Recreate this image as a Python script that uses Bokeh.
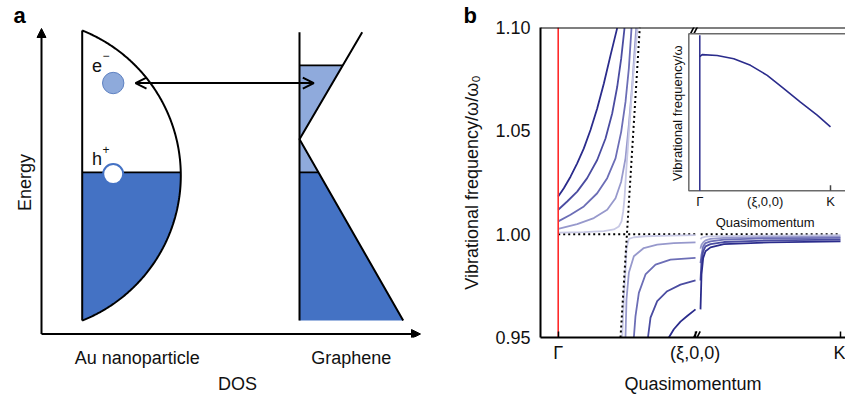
import numpy as np
from bokeh.plotting import figure
from bokeh.models import Range1d, FixedTicker, Arrow, NormalHead, OpenHead, Span, Title
from bokeh.layouts import row
from bokeh.core.properties import value
from bokeh.embed import file_html
from bokeh.resources import INLINE

FONT = "Liberation Sans"

# ---------------- Panel b data ----------------
X_TICKS = [0.0, 0.485, 1.0]
X_TICK_LABELS = ["Γ", "(ξ,0,0)", "K"]
Y_TICKS = [0.95, 1.00, 1.05, 1.10]
Y_TICK_LABELS = ["0.95", "1.00", "1.05", "1.10"]

# upper branch (dark -> light)
U1_X = [0.0, 0.0199, 0.0436, 0.0672, 0.0908, 0.1144, 0.1381, 0.1617, 0.1853, 0.2089]
U1_Y = [1.0182, 1.0222, 1.0278, 1.0343, 1.0415, 1.0504, 1.0608, 1.0729, 1.0865, 1.0997]
U2_X = [0.0, 0.0318, 0.0672, 0.1026, 0.1381, 0.1676, 0.1912, 0.2089, 0.2231, 0.2349]
U2_Y = [1.0118, 1.0158, 1.0206, 1.0271, 1.0359, 1.0463, 1.0584, 1.0712, 1.0849, 1.0997]
U3_X = [0.0, 0.0436, 0.0908, 0.1381, 0.1735, 0.2030, 0.2231, 0.2384, 0.2502, 0.2597]
U3_Y = [1.0062, 1.0094, 1.0134, 1.0198, 1.0271, 1.0367, 1.0495, 1.0640, 1.0801, 1.0997]
U4_X = [0.0, 0.0672, 0.1262, 0.1735, 0.2030, 0.2231, 0.2384, 0.2502, 0.2621, 0.2703, 0.2763]
U4_Y = [1.0026, 1.0049, 1.0078, 1.0118, 1.0174, 1.0254, 1.0367, 1.0528, 1.0720, 1.0881, 1.0997]
U5_X = [0.0, 0.0908, 0.1617, 0.1971, 0.2148, 0.2243, 0.2302, 0.2349, 0.2408, 0.2491, 0.2585, 0.2680, 0.2774, 0.2810]
U5_Y = [1.0007, 1.0010, 1.0015, 1.0023, 1.0037, 1.0062, 1.0110, 1.0174, 1.0303, 1.0463, 1.0640, 1.0801, 1.0945, 1.0997]

# lower branch, left of the axis break (dark -> light)
L1_X = [0.3919, 0.4096, 0.4332, 0.4569, 0.4864]
L1_Y = [0.9500, 0.9540, 0.9577, 0.9604, 0.9636]
L2_X = [0.3180, 0.3270, 0.3507, 0.3861, 0.4332, 0.4864]
L2_Y = [0.9500, 0.9596, 0.9676, 0.9724, 0.9756, 0.9776]
L3_X = [0.2680, 0.2738, 0.2857, 0.3092, 0.3447, 0.3978, 0.4864]
L3_Y = [0.9500, 0.9604, 0.9716, 0.9805, 0.9853, 0.9877, 0.9885]
L4_X = [0.2384, 0.2419, 0.2502, 0.2680, 0.3032, 0.3507, 0.4096, 0.4864]
L4_Y = [0.9500, 0.9684, 0.9813, 0.9893, 0.9933, 0.9949, 0.9957, 0.9960]
L5_X = [0.2267, 0.2330, 0.2396, 0.2420, 0.2502, 0.2680, 0.3092, 0.3978, 0.4864]
L5_Y = [0.9500, 0.9700, 0.9850, 0.9930, 0.9977, 0.9985, 0.9990, 0.9993, 0.9995]

# lower branch, right of the axis break (dark -> light)
R_X = [0.5041, 0.5076, 0.5136, 0.5218, 0.5395, 0.5867, 0.7500, 1.0000]
R1_Y = [0.9636, 0.9805, 0.9885, 0.9917, 0.9936, 0.9952, 0.9960, 0.9965]
R2_Y = [0.9776, 0.9869, 0.9917, 0.9941, 0.9952, 0.9962, 0.9970, 0.9974]
R3_Y = [0.9860, 0.9900, 0.9941, 0.9957, 0.9965, 0.9974, 0.9980, 0.9982]
R4_Y = [0.9930, 0.9949, 0.9960, 0.9970, 0.9977, 0.9982, 0.9986, 0.9988]
R5_Y = [0.9975, 0.9982, 0.9985, 0.9988, 0.9989, 0.9991, 0.9993, 0.9995]

# uncoupled modes (dotted)
LIGHT_X = [0.2207, 0.2890]
LIGHT_Y = [0.95, 1.10]
FLAT_LEFT_X = [0.0, 0.492]
FLAT_RIGHT_X = [0.5046, 1.0]
FLAT_Y = 1.00
BREAK_X = [0.480, 0.492]

# inset: full dispersion (normalised frequency)
INSET_Q = [0.0, 0.018, 0.133, 0.260, 0.388, 0.516, 0.643, 0.770, 0.898, 1.0]
INSET_W = [0.855, 0.867, 0.862, 0.841, 0.799, 0.735, 0.651, 0.565, 0.481, 0.407]
INSET_TICKS = [0.0, 0.5, 1.0]
INSET_TICK_LABELS = ["Γ", "(ξ,0,0)", "K"]

SHADES = ["#2b2c8c", "#4a4ca1", "#6c6eb6", "#9799cc", "#c8c9e5"]

# ---------------- Panel a (schematic) geometry, page pixels ----------------
AX_X, AX_Y, AX_TOP, AX_RIGHT = 41.0, 334.5, 28.0, 420.0
AU_X0, AU_TOP, AU_BOT, AU_XMAX = 81.7, 30.0, 321.0, 180.3
E_F, E_TOP = 172.3, 65.0
GR_X0, GR_TOP, GR_APEX, GR_BOT = 299.0, 31.7, 139.0, 321.0
GR_UP_X, GR_LOW_X = 361.7, 402.7
ELEC = (112.7, 82.7, 10.7)
HOLE = (112.7, 174.0, 10.0)
TRANSFER = (135.0, 313.3, 82.7)
A_TICKS = [136.7, 350.8]
A_TICK_LABELS = ["Au nanoparticle", "Graphene"]

W_A, W_B, H = 440, 405, 396
TOP_B, BOT_B = 27, 58          # shared frame borders (rows align frames)
FRAME_TOP, FRAME_BOT = TOP_B, H - BOT_B
A_LEFT = 34
DARK_BLUE, LIGHT_BLUE = "#4472c4", "#8faadc"
TXT = "#111111"

pa = figure(width=W_A, height=H, x_range=Range1d(A_LEFT, W_A), y_range=Range1d(FRAME_BOT, FRAME_TOP),
            output_backend="svg", toolbar_location=None,
            min_border_left=A_LEFT, min_border_right=0, min_border_top=TOP_B, min_border_bottom=BOT_B)
pa.outline_line_color = None
pa.grid.visible = False
for ax in (pa.xaxis, pa.yaxis):
    ax.axis_line_color = None
    ax.major_tick_in = 0
    ax.major_tick_out = 0
    ax.minor_tick_line_color = None
    ax.major_label_text_font = FONT
    ax.major_label_text_font_size = "18px"
    ax.major_label_text_color = TXT
    ax.axis_label_text_font = FONT
    ax.axis_label_text_font_size = "18px"
    ax.axis_label_text_font_style = "normal"
    ax.axis_label_text_color = TXT
pa.xaxis.ticker = FixedTicker(ticks=A_TICKS)
pa.xaxis.major_label_overrides = dict(zip(A_TICKS, A_TICK_LABELS))
pa.xaxis.major_label_standoff = 10
pa.xaxis.axis_label = "DOS"
pa.xaxis.axis_label_standoff = 3
pa.yaxis.ticker = FixedTicker(ticks=[])
pa.yaxis.axis_label = "Energy"
pa.yaxis.axis_label_standoff = 0
pa.title = Title(text="a", align="left", offset=-21, standoff=0, text_font=FONT,
                 text_font_size="22px", text_font_style="bold", text_color="black")

# Au DOS: circular arc
cy = (AU_TOP + AU_BOT) / 2
hh = (AU_BOT - AU_TOP) / 2
cx = (AU_XMAX**2 - AU_X0**2 - hh**2) / (2 * (AU_XMAX - AU_X0))
R = AU_XMAX - cx
th0 = np.arccos((AU_X0 - cx) / R)
th = np.linspace(-th0, th0, 300)
thf = np.linspace(np.arcsin((E_F - cy) / R), th0, 200)
fx = [AU_X0] + list(cx + R * np.cos(thf)) + [AU_X0]
fy = [E_F] + list(cy + R * np.sin(thf)) + [AU_BOT]
pa.patch(fx, fy, fill_color=DARK_BLUE, line_color=None)
pa.line(cx + R * np.cos(th), cy + R * np.sin(th), line_color="black", line_width=2)
pa.line([AU_X0, AU_X0], [AU_TOP, AU_BOT], line_color="black", line_width=2)
xf_au = cx + R * np.cos(thf[0])
pa.line([AU_X0, xf_au], [E_F, E_F], line_color="black", line_width=1.6)

# Graphene DOS: Dirac cone
def up_x(y):
    return GR_X0 + (GR_APEX - y) / (GR_APEX - GR_TOP) * (GR_UP_X - GR_X0)

def low_x(y):
    return GR_X0 + (y - GR_APEX) / (GR_BOT - GR_APEX) * (GR_LOW_X - GR_X0)

pa.patch([GR_X0, up_x(E_TOP), GR_X0, low_x(E_F), GR_X0], [E_TOP, E_TOP, GR_APEX, E_F, E_F],
         fill_color=LIGHT_BLUE, line_color=None)
pa.patch([GR_X0, low_x(E_F), GR_LOW_X, GR_X0], [E_F, E_F, GR_BOT, GR_BOT],
         fill_color=DARK_BLUE, line_color=None)
pa.line([GR_X0, GR_X0], [GR_TOP, GR_BOT], line_color="black", line_width=2)
pa.line([GR_UP_X, GR_X0, GR_LOW_X], [GR_TOP, GR_APEX, GR_BOT], line_color="black", line_width=2)
pa.line([GR_X0, up_x(E_TOP)], [E_TOP, E_TOP], line_color="black", line_width=1.6)
pa.line([GR_X0, low_x(E_F)], [E_F, E_F], line_color="black", line_width=1.6)

# electron and hole
pa.circle(x=[ELEC[0]], y=[ELEC[1]], radius=ELEC[2], fill_color="#8eaadb", line_color="#5f82c2", line_width=1)
pa.circle(x=[HOLE[0]], y=[HOLE[1]], radius=HOLE[2], fill_color="white", line_color=DARK_BLUE, line_width=2)

# arrows
pa.add_layout(Arrow(start=OpenHead(size=11, line_width=2), end=OpenHead(size=11, line_width=2),
                    x_start=TRANSFER[0], x_end=TRANSFER[1], y_start=TRANSFER[2], y_end=TRANSFER[2],
                    line_width=2))
pa.add_layout(Arrow(end=NormalHead(size=9, fill_color="black", line_color="black"),
                    x_start=AX_X, y_start=AX_Y, x_end=AX_X, y_end=AX_TOP, line_width=2))
pa.add_layout(Arrow(end=NormalHead(size=9, fill_color="black", line_color="black"),
                    x_start=AX_X, y_start=AX_Y, x_end=AX_RIGHT, y_end=AX_Y, line_width=2))

pa.text(x=[91.5, 91.5], y=[65.5, 158.5], text=["e", "h"], text_font=value(FONT), text_font_size="18px",
        text_align="left", text_baseline="alphabetic", text_color=TXT)
pa.text(x=[102.0, 102.0], y=[55.0, 149.5], text=["−", "+"], text_font=value(FONT), text_font_size="12px",
        text_align="left", text_baseline="alphabetic", text_color=TXT)

# ---------------- Panel b ----------------
pb = figure(width=W_B, height=H, x_range=Range1d(-0.0627, 1.0177), y_range=Range1d(0.95, 1.10),
            output_backend="svg", toolbar_location=None,
            min_border_left=100, min_border_right=0, min_border_top=TOP_B, min_border_bottom=BOT_B)
pb.outline_line_color = None
pb.grid.visible = False
pb.title = Title(text="b", align="left", offset=-77, standoff=0, text_font=FONT,
                 text_font_size="22px", text_font_style="bold", text_color="black")

for ax in (pb.xaxis, pb.yaxis):
    ax.axis_line_width = 2
    ax.major_label_text_font = FONT
    ax.major_label_text_font_size = "18px"
    ax.major_label_text_color = TXT
    ax.axis_label_text_font = FONT
    ax.axis_label_text_font_size = "18px"
    ax.axis_label_text_font_style = "normal"
    ax.axis_label_text_color = TXT
    ax.minor_tick_line_color = None
    ax.major_tick_out = 0

pb.xaxis.ticker = FixedTicker(ticks=X_TICKS)
pb.xaxis.major_label_overrides = dict(zip(X_TICKS, X_TICK_LABELS))
pb.xaxis.major_tick_in = 6
pb.xaxis.major_tick_line_width = 1.5
pb.xaxis.major_label_standoff = 5
pb.xaxis.axis_label = "Quasimomentum"
pb.xaxis.axis_label_standoff = 8
pb.yaxis.ticker = FixedTicker(ticks=Y_TICKS)
pb.yaxis.major_label_overrides = dict(zip(Y_TICKS, Y_TICK_LABELS))
pb.yaxis.major_tick_in = 0
pb.yaxis.major_label_standoff = 10
pb.yaxis.axis_label = "Vibrational frequency/ω/ω₀"
pb.yaxis.axis_label_standoff = 10

pb.add_layout(Span(location=1.10, dimension="width", line_color="black", line_width=2))

# dotted uncoupled modes
pb.line(FLAT_LEFT_X, [FLAT_Y, FLAT_Y], line_color="black", line_width=2, line_dash="2 3")
pb.line(FLAT_RIGHT_X, [FLAT_Y, FLAT_Y], line_color="black", line_width=2, line_dash="2 3")

for xs, ys, c in zip([U1_X, U2_X, U3_X, U4_X, U5_X], [U1_Y, U2_Y, U3_Y, U4_Y, U5_Y], SHADES):
    pb.line(xs, ys, line_color=c, line_width=1.8)
for xs, ys, c in zip([L1_X, L2_X, L3_X, L4_X, L5_X], [L1_Y, L2_Y, L3_Y, L4_Y, L5_Y], SHADES):
    pb.line(xs, ys, line_color=c, line_width=1.8)
for ys, c in zip([R5_Y, R4_Y, R3_Y, R2_Y, R1_Y], SHADES[::-1]):
    pb.line(R_X, ys, line_color=c, line_width=1.8)

pb.line(LIGHT_X, LIGHT_Y, line_color="black", line_width=2, line_dash="2 3")
pb.line([0, 0], [0.95, 1.10], line_color="#ff2a2a", line_width=1.6)

# axis-break marks (short slashes on the bottom and top axes)
dx, dy = 0.0110, 0.0030
for yb in (0.95, 1.10):
    pb.segment(x0=[b - dx for b in BREAK_X], y0=[yb - dy] * 2, x1=[b + dx for b in BREAK_X],
               y1=[yb + dy] * 2, line_color="black", line_width=1.6)

# inset via extra ranges
pb.extra_x_ranges = {"inset": Range1d(-1.2188, 1.1148)}
pb.extra_y_ranges = {"inset": Range1d(-0.9358, 1.040)}
kw = dict(x_range_name="inset", y_range_name="inset")
pb.quad(left=[-0.084], right=[1.3], bottom=[0.0], top=[1.0], fill_color="white",
        line_color="#6a6a6a", line_width=1.5, **kw)
pb.segment(x0=[1.0], y0=[0.0], x1=[1.0], y1=[0.035], line_color="#444444", line_width=1.5, **kw)
pb.line([0.0, 0.0], [0.0, 0.99], line_color=SHADES[0], line_width=1.5, **kw)
pb.line(INSET_Q, INSET_W, line_color=SHADES[0], line_width=1.6, **kw)
pb.text(x=INSET_TICKS, y=[-0.07] * 3, text=INSET_TICK_LABELS, text_font=value(FONT),
        text_font_size="13px", text_align="center", text_baseline="middle", text_color=TXT, **kw)
pb.text(x=[0.5], y=[-0.203], text=["Quasimomentum"], text_font=value(FONT),
        text_font_size="13px", text_align="center", text_baseline="middle", text_color=TXT, **kw)
pb.text(x=[-0.168], y=[0.494], text=["Vibrational frequency/ω"], angle=np.pi / 2, text_font=value(FONT),
        text_font_size="13px", text_align="center", text_baseline="middle", text_color=TXT, **kw)

layout = row(pa, pb)
open("out.html", "w").write(file_html(layout, INLINE))
